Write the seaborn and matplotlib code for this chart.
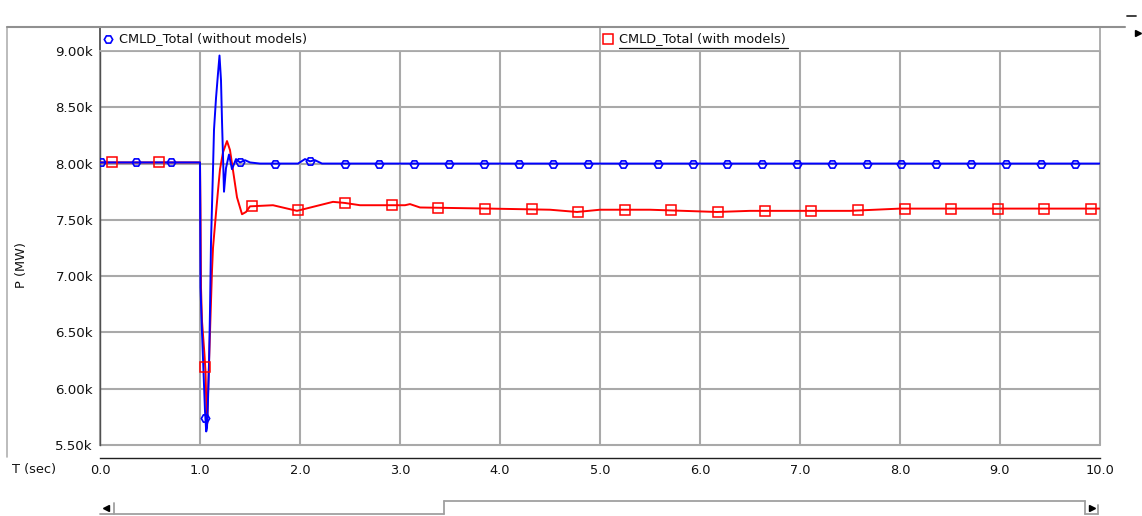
import numpy as np
import pandas as pd
import matplotlib
matplotlib.use("Agg")
import matplotlib.pyplot as plt
from matplotlib.lines import Line2D
from matplotlib.ticker import FuncFormatter
import seaborn as sns

# ---- simulation traces: total CMLD load power (MW) vs time (s) ----
blue_t = [0.0, 1.00, 1.005, 1.02, 1.05, 1.062, 1.07, 1.08, 1.09, 1.10, 1.11, 1.13,
          1.14, 1.16, 1.18, 1.195, 1.21, 1.22, 1.24, 1.26, 1.29, 1.32, 1.36, 1.40,
          1.45, 1.50, 1.60, 1.98, 2.05, 2.10, 2.15, 2.22, 10.0]
blue_p = [8010, 8010, 6900, 6500, 5800, 5620, 5650, 5900, 6200, 6700, 7300, 7950,
          8300, 8580, 8800, 8960, 8740, 8380, 7750, 7960, 8080, 7950, 8040, 8010,
          8030, 8010, 8000, 8000, 8040, 8020, 8030, 8000, 8000]

red_t = [0.0, 1.00, 1.005, 1.01, 1.02, 1.045, 1.055, 1.065, 1.072, 1.08, 1.10,
         1.12, 1.13, 1.16, 1.18, 1.20, 1.23, 1.27, 1.30, 1.33, 1.37, 1.42, 1.46,
         1.50, 1.73, 1.97, 2.15, 2.33, 2.45, 2.60, 3.05, 3.10, 3.20, 3.90, 4.50,
         4.77, 5.00, 5.50, 6.17, 6.50, 7.50, 8.00, 10.0]
red_p = [8010, 8010, 7600, 6900, 6600, 6300, 6150, 5800, 5690, 5950, 6500,
         7050, 7250, 7560, 7760, 7950, 8100, 8200, 8120, 7940, 7700, 7550, 7570,
         7620, 7630, 7580, 7620, 7660, 7650, 7630, 7630, 7640, 7610, 7600, 7590,
         7570, 7590, 7590, 7570, 7580, 7580, 7600, 7600]

series_names = ["CMLD_Total (without models)", "CMLD_Total (with models)"]
x_ticks = [0, 1, 2, 3, 4, 5, 6, 7, 8, 9, 10]
y_ticks = [5500, 6000, 6500, 7000, 7500, 8000, 8500, 9000]

# marker placement along each trace (every ~0.35 s / ~0.47 s)
blue_mark_t = np.arange(0.01, 10.0, 0.348)
red_mark_t = np.arange(0.12, 10.0, 0.4662)

W, H = 1142, 516
GRID = "#a9a9a9"
BLUE = "#0000ff"
RED = "#ff0000"
TXT = "#111111"

sns.set_style("white")
plt.rcParams["font.family"] = ["DejaVu Sans"]
FS = 9.3

fig = plt.figure(figsize=(W / 100, H / 100), dpi=100)
fig.patch.set_facecolor("white")


def px_box(x0, y0, x1, y1):
    return [x0 / W, 1 - y1 / H, (x1 - x0) / W, (y1 - y0) / H]


def fig_line(xs, ys, **kw):
    fig.add_artist(Line2D([x / W for x in xs], [1 - y / H for y in ys],
                          transform=fig.transFigure, **kw))


ax = fig.add_axes(px_box(100, 51, 1100, 445))

df_b = pd.DataFrame({"t": blue_t, "p": blue_p})
df_r = pd.DataFrame({"t": red_t, "p": red_p})
sns.lineplot(data=df_b, x="t", y="p", ax=ax, color=BLUE, lw=1.4,
             estimator=None, sort=False, zorder=4)
sns.lineplot(data=df_r, x="t", y="p", ax=ax, color=RED, lw=1.4,
             estimator=None, sort=False, zorder=3)

ax.plot(blue_mark_t, np.interp(blue_mark_t, blue_t, blue_p), ls="none",
        marker="H", ms=6, mfc="none", mec=BLUE, mew=1.2, zorder=5)
ax.plot(red_mark_t, np.interp(red_mark_t, red_t, red_p), ls="none",
        marker="s", ms=7, mfc="none", mec=RED, mew=1.1, zorder=5)

ax.set_xlim(0, 10)
ax.set_ylim(5500, 9000)
ax.set_xticks(x_ticks)
ax.set_yticks(y_ticks)
ax.set_xticklabels([f"{v:.1f}" for v in x_ticks])
ax.yaxis.set_major_formatter(FuncFormatter(lambda v, _: f"{v / 1000:.2f}k"))
ax.set_xlabel("")
ax.set_ylabel("")

for v in x_ticks:
    ax.axvline(v, color=GRID, lw=1.5, zorder=1, clip_on=False)
for v in y_ticks:
    ax.axhline(v, color=GRID, lw=1.5, zorder=1, clip_on=False)

for side in ["top", "right"]:
    ax.spines[side].set_visible(False)
ax.spines["left"].set_color("#505050")
ax.spines["left"].set_linewidth(1.0)
# x axis sits a little below the plotting area (13 px)
ax.spines["bottom"].set_position(("outward", 13 * 72 / 100))
ax.spines["bottom"].set_color("#202020")
ax.spines["bottom"].set_linewidth(1.0)

ax.tick_params(axis="y", direction="out", length=4, width=1, color="#303030",
               labelsize=9.6, pad=1, labelcolor=TXT)
ax.tick_params(axis="x", direction="out", length=3, width=1, color="#303030",
               labelsize=FS, pad=1.5, labelcolor=TXT)

# legend band above the plot
axl = fig.add_axes(px_box(100, 27, 1100, 51))
axl.set_xlim(0, 1)
axl.set_ylim(0, 1)
axl.set_xticks([])
axl.set_yticks([])
for s in axl.spines.values():
    s.set_color(GRID)
    s.set_linewidth(1.3)
axl.spines["left"].set_color("#505050")
axl.axvline(0.5, color=GRID, lw=1.3)
axl.plot([0.008], [0.5], marker="H", ms=6, mfc="none", mec=BLUE, mew=1.2)
axl.text(0.019, 0.5, series_names[0], ha="left", va="center", fontsize=FS,
         color=TXT)
axl.plot([0.508], [0.5], marker="s", ms=7, mfc="none", mec=RED, mew=1.1)
axl.text(0.519, 0.5, series_names[1], ha="left", va="center", fontsize=FS,
         color=TXT)
axl.plot([0.519, 0.688], [0.12, 0.12], color=TXT, lw=0.9)

# axis captions
fig.text(22 / W, 1 - 265 / H, "P (MW)", rotation=90, ha="center", va="center",
         fontsize=FS, color=TXT)
fig.text(12 / W, 1 - 470 / H, "T (sec)", ha="left", va="center",
         fontsize=FS, color=TXT)

# window frame
fig_line([7, 7], [27, 457], color="#b0b0b0", lw=1.2)
fig_line([7, 1125], [27, 27], color="#909090", lw=1.5)
fig_line([1127, 1136], [16, 16], color="#303030", lw=1.3)
fig.add_artist(Line2D([1138 / W], [1 - 33 / H], marker=">", ms=4, color="black",
                      transform=fig.transFigure))

# horizontal scrollbar
sb = "#a0a0a0"
fig_line([100, 444], [514, 514], color=sb, lw=1.3)
fig_line([444, 444], [501, 514], color=sb, lw=1.3)
fig_line([444, 1085], [501, 501], color=sb, lw=1.3)
fig_line([1085, 1085], [501, 514], color=sb, lw=1.3)
fig_line([1085, 1098], [514, 514], color=sb, lw=1.3)
fig_line([1098, 1098], [505, 514], color=sb, lw=1.3)
fig_line([114, 114], [503, 514], color=sb, lw=1.3)
fig.add_artist(Line2D([106 / W], [1 - 508 / H], marker="<", ms=4, color="black",
                      transform=fig.transFigure))
fig.add_artist(Line2D([1092 / W], [1 - 508 / H], marker=">", ms=4, color="black",
                      transform=fig.transFigure))

fig.savefig("out.png", dpi=100, facecolor="white")
